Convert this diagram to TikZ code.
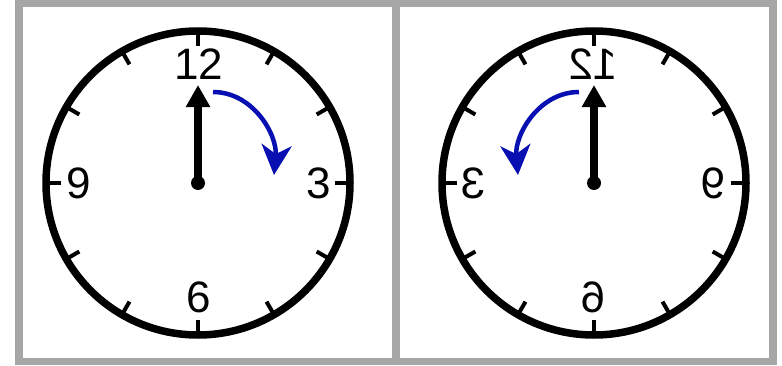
\documentclass[tikz,border=0pt]{standalone}
\usepackage{fontspec}
\setmainfont{Liberation Sans}
\usetikzlibrary{arrows.meta}
\definecolor{framegray}{RGB}{166,166,166}
\definecolor{turnblue}{RGB}{8,16,178}

\begin{document}
\begin{tikzpicture}[
    x=1pt, y=1pt,
    font=\fontsize{44}{44}\selectfont,
    rim/.style={draw, line width=7.5pt},
    tickmark/.style={draw, line width=4pt},
    numeral/.style={inner sep=0pt},
    hand/.style={draw, line width=7.5pt, -{Triangle[length=22pt,width=23pt]}},
    turn/.style={draw=turnblue, line width=4.5pt, -{Stealth[length=30pt,width=30pt,inset=9pt]}}
]
\useasboundingbox (0,0) rectangle (782,365);

% ===================== PANELS =====================
\fill[framegray] (15,0) rectangle (777,365);
\fill[white] (23,7) rectangle (392,358);
\fill[white] (400,7) rectangle (769,358);

% ===================== CLOCKS (right one mirrored) =====================
\foreach \side/\cx/\flip in {left/198/1, right/594/-1} {
  \begin{scope}[shift={(\cx,182)}, xscale=\flip, transform shape]
    \coordinate (\side-c) at (0,0);
    \draw[rim] (\side-c) circle[radius=152];
    \foreach \a in {0,30,...,330}
      \draw[tickmark] (\a:137) -- (\a:152);

    \node[numeral] (\side-12) at (1,119) {12};
    \node[numeral] (\side-3) at (121,0) {3};
    \node[numeral] (\side-6) at (0.5,-114) {6};
    \node[numeral] (\side-9) at (-119,0) {9};

    % hand
    \coordinate (\side-tip) at (0,98);
    \draw[hand] (\side-c) -- (\side-tip);
    \fill (\side-c) circle[radius=7];

    % turning direction
    \coordinate (\side-from) at (15,91);
    \coordinate (\side-to) at (76,8);
    \draw[turn] (\side-from) to[out=0, in=85] (\side-to);
  \end{scope}
}

\end{tikzpicture}
\end{document}
